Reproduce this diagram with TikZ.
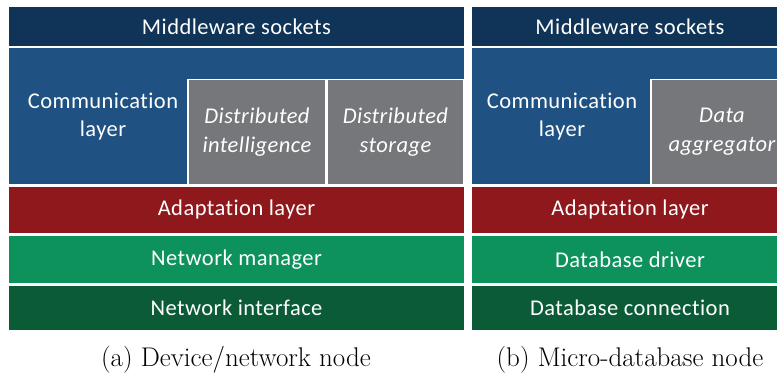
\documentclass[tikz,border=0pt]{standalone}
\usepackage{fontspec}
\newfontfamily\layerfont[LetterSpace=2,RawFeature={-liga;-clig;-dlig}]{Carlito}
\usetikzlibrary{positioning}

\definecolor{sockblue}{HTML}{0F3457}
\definecolor{commblue}{HTML}{1F5282}
\definecolor{blockgray}{HTML}{76777A}
\definecolor{adaptred}{HTML}{8E181C}
\definecolor{mgrgreen}{HTML}{0C925A}
\definecolor{ifgreen}{HTML}{0B5C36}

\tikzset{
  layer/.style={rectangle, inner sep=0pt, text=white, align=center,
    font=\layerfont\fontsize{22.5}{28}\selectfont},
  block/.style={layer, fill=blockgray, draw=white, line width=1.5pt,
    font=\layerfont\itshape\fontsize{22.5}{29}\selectfont},
  caption/.style={inner sep=0pt, font=\fontsize{27}{32}\selectfont}
}

\begin{document}
\begin{tikzpicture}[x=1pt,y=-1pt]
    \useasboundingbox (0,0) rectangle (777,374);
    \clip (0,0) rectangle (777,374);
    % (a) device/network node
    \node[layer, fill=sockblue, minimum width=455pt, minimum height=39pt] (sockA) at (236.5,26.5) {Middleware sockets};
    \node[layer, fill=commblue, minimum width=455pt, minimum height=136pt] (commA) at (236.5,116) {};
    \node[layer] (commtxtA) at (103,117) {Communication\\layer};
    \node[block, minimum width=138pt, minimum height=105pt] (intelA) at (257,132) {Distributed\\intelligence};
    \node[block, minimum width=137pt, minimum height=105pt] (storeA) at (395.5,132) {Distributed\\storage};
    \node[layer, fill=adaptred, minimum width=455pt, minimum height=46pt] (adaptA) at (236.5,210) {Adaptation layer};
    \node[layer, fill=mgrgreen, minimum width=455pt, minimum height=47pt] (mgrA) at (236.5,259.5) {Network manager};
    \node[layer, fill=ifgreen, minimum width=455pt, minimum height=44pt] (ifA) at (236.5,308) {Network interface};
    \node[caption] (capA) at (236,360) {(a) Device/network node};
    % (b) micro-database node
    \node[layer, fill=sockblue, minimum width=455pt, minimum height=39pt] (sockB) at (699.5,26.5) {};
    \node[layer] at (630,26.5) {Middleware sockets};
    \node[layer, fill=commblue, minimum width=455pt, minimum height=136pt] (commB) at (699.5,116) {};
    \node[layer] (commtxtB) at (562,117) {Communication\\layer};
    \node[block, minimum width=142pt, minimum height=105pt] (aggB) at (722,132) {Data\\aggregator};
    \node[layer, fill=adaptred, minimum width=455pt, minimum height=46pt] (adaptB) at (699.5,210) {};
    \node[layer] at (630,210) {Adaptation layer};
    \node[layer, fill=mgrgreen, minimum width=455pt, minimum height=47pt] (drvB) at (699.5,259.5) {};
    \node[layer] at (630,259.5) {Database driver};
    \node[layer, fill=ifgreen, minimum width=455pt, minimum height=44pt] (connB) at (699.5,308) {};
    \node[layer] at (630,308) {Database connection};
    \node[caption] (capB) at (630,360) {(b) Micro-database node};
\end{tikzpicture}
\end{document}
